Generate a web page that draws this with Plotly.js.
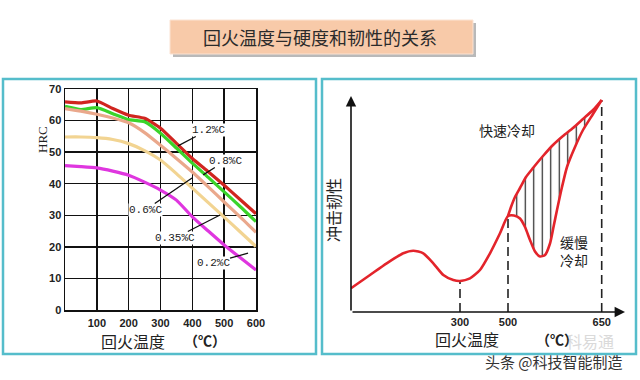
<!DOCTYPE html>
<html><head><meta charset="utf-8">
<script src="https://cdn.plot.ly/plotly-3.0.1.min.js"></script>
<style>html,body{margin:0;padding:0;background:#fff}#chart{width:640px;height:380px}</style>
</head><body><div id="chart"></div>
<script>
// ---------- Left chart data: tempering temperature vs hardness (HRC) ----------
const temps = [0, 50, 100, 150, 200, 250, 300, 350, 400, 450, 500, 550, 600];
const hrc12 = [65.9, 65.6, 66.2, 63.8, 61.7, 60.7, 57.6, 52.8, 48.0, 43.8, 39.5, 35.0, 30.5];
const hrc08 = [64.5, 63.5, 64.1, 62.2, 60.3, 59.6, 56.0, 51.3, 46.5, 42.0, 37.4, 32.8, 28.0];
const hrc06 = [63.8, 63.0, 62.0, 60.8, 59.3, 56.2, 52.2, 48.0, 43.7, 39.0, 34.2, 29.5, 24.6];
const hrc035 = [54.8, 54.8, 54.6, 54.0, 52.7, 50.5, 47.5, 43.2, 38.6, 34.0, 29.4, 24.8, 20.1];
const hrc02 = [45.7, 45.4, 45.0, 44.0, 42.7, 40.5, 38.0, 34.8, 29.5, 25.0, 20.6, 16.6, 12.7];
const seriesNames = ['1.2%C', '0.8%C', '0.6%C', '0.35%C', '0.2%C'];
const xTickVals = [100, 200, 300, 400, 500, 600];
const yTickVals = [0, 10, 20, 30, 40, 50, 60, 70];
// label text position [T, HRC] and pointer target [T, HRC]
const labelText = [[450, 57], [503, 47.2], [252, 31.7], [346, 22.8], [465, 14.9]];
const labelHead = [[355, 52], [434, 42.8], [399, 41.8], [487, 30.1], [575, 18.0]];

// ---------- Right chart data: schematic toughness curve (schematic units) ----------
const commonX = [0, 19, 35.7, 52.3, 62.3, 72.3, 82.3, 92.3, 102.3, 109, 119, 129, 139, 149, 157];
const commonY = [23.7, 37, 48.7, 58.7, 61.3, 58.7, 48.7, 37, 32, 31, 33.7, 42, 58.7, 78.7, 96];
const fastX = [157, 160, 164, 169, 175, 182, 192, 202, 212, 222, 232, 242, 250.7];
const fastY = [96, 105, 115, 124, 135, 144, 156, 167, 176, 184, 193, 202, 212];
const slowX = [157, 163, 169, 174, 179, 184, 189, 194, 199, 202.5, 206, 211, 216, 224, 232, 242, 250.7];
const slowY = [96, 96.5, 93.5, 85, 72, 60.5, 55.5, 57, 68.5, 85, 102, 125, 145, 165, 182, 198, 212];
const rTickPos = [109, 157, 250.7];
const rTickText = ['300', '500', '650'];

const W = 640, H = 380;
const px = v => v / W, py = v => 1 - v / H;
const cjk = '"Noto Sans CJK SC", "Noto Sans", sans-serif';

const colors = ['#d0251f', '#3ad42a', '#eaa88c', '#f2d492', '#df36df'];
const leftSeries = [hrc12, hrc08, hrc06, hrc035, hrc02];

const traces = [];
leftSeries.forEach((ys, i) => {
  traces.push({x: temps, y: ys, type: 'scatter', mode: 'lines', name: seriesNames[i],
    line: {color: colors[i], width: 3.2, shape: 'spline', smoothing: 0.5},
    xaxis: 'x', yaxis: 'y', hoverinfo: 'skip'});
});

// hatched region between fast and slow cooling
const polyX = fastX.concat(slowX.slice().reverse());
const polyY = fastY.concat(slowY.slice().reverse());
traces.push({x: polyX, y: polyY, type: 'scatter', mode: 'lines', fill: 'toself',
  fillcolor: 'rgba(0,0,0,0)', line: {width: 0, shape: 'spline', smoothing: 0.6},
  fillpattern: {shape: '|', size: 8.5, solidity: 0.14, fgcolor: '#222', bgcolor: 'rgba(0,0,0,0)'},
  xaxis: 'x2', yaxis: 'y2', hoverinfo: 'skip'});
// slow cooling path (common + slow)
traces.push({x: commonX.concat(slowX.slice(1)), y: commonY.concat(slowY.slice(1)), type: 'scatter', mode: 'lines',
  line: {color: '#e3242b', width: 2.6, shape: 'spline', smoothing: 0.6}, xaxis: 'x2', yaxis: 'y2', hoverinfo: 'skip'});
// fast cooling path
traces.push({x: fastX, y: fastY, type: 'scatter', mode: 'lines',
  line: {color: '#e3242b', width: 2.6, shape: 'spline', smoothing: 0.6}, xaxis: 'x2', yaxis: 'y2', hoverinfo: 'skip'});

function valueAt(x) {
  const xs = commonX.concat(fastX.slice(1)), ys = commonY.concat(fastY.slice(1));
  const i = xs.indexOf(x);
  return ys[i];
}

const shapes = [
  // title shadow & box
  {type: 'rect', xref: 'paper', yref: 'paper', x0: px(173), x1: px(476), y0: py(57), y1: py(23), fillcolor: '#b9b9b9', line: {width: 0}, layer: 'below'},
  {type: 'rect', xref: 'paper', yref: 'paper', x0: px(170), x1: px(473), y0: py(54), y1: py(20), fillcolor: '#f8caa9', line: {color: '#fbe3d3', width: 1}, layer: 'below'},
  // panel borders
  {type: 'rect', xref: 'paper', yref: 'paper', x0: px(3), x1: px(316), y0: py(354), y1: py(79), line: {color: '#55bdcb', width: 2.5}, layer: 'below'},
  {type: 'rect', xref: 'paper', yref: 'paper', x0: px(322), x1: px(636), y0: py(354), y1: py(79), line: {color: '#55bdcb', width: 2.5}, layer: 'below'}
];
rTickPos.forEach(xv => {
  shapes.push({type: 'line', xref: 'x2', yref: 'y2', x0: xv, x1: xv, y0: 0, y1: valueAt(xv),
    line: {color: '#222', width: 1.6, dash: '9px,5px'}, layer: 'below'});
});

function paperText(x, y, text, font, extra) {
  return Object.assign({xref: 'paper', yref: 'paper', x: px(x), y: py(y), text: text, showarrow: false,
    xanchor: 'center', yanchor: 'middle', font: font}, extra || {});
}

const annotations = [
  paperText(320, 37, '回火温度与硬度和韧性的关系', {family: cjk, size: 18, color: '#2b2b2b'}),
  paperText(42, 140, 'HRC', {family: '"Liberation Serif", serif', size: 13, color: '#222'}, {textangle: -90}),
  paperText(133, 341, '回火温度', {family: cjk, size: 16, color: '#222'}),
  paperText(205, 340, '（℃）', {family: cjk, size: 14, color: '#222', weight: 'bold'}),
  paperText(333, 210, '冲击韧性', {family: cjk, size: 16, color: '#222'}, {textangle: -90}),
  paperText(467, 339, '回火温度', {family: cjk, size: 16, color: '#222'}),
  paperText(590, 341, '科易通', {family: cjk, size: 16, color: '#dadada'}),
  paperText(557, 339, '（℃）', {family: cjk, size: 14, color: '#222', weight: 'bold'}),
  paperText(507, 130, '快速冷却', {family: cjk, size: 14, color: '#222'}),
  paperText(574, 251, '缓慢<br>冷却', {family: cjk, size: 14, color: '#222'}),
  paperText(554, 361, '头条 @科技智能制造', {family: cjk, size: 15, color: '#333'}),
  // right axis arrows
  {xref: 'x2', yref: 'y2', axref: 'x2', ayref: 'y2', x: 0, y: 216, ax: 0, ay: 0, text: '', showarrow: true,
    arrowhead: 2, arrowsize: 1.3, arrowwidth: 1.6, arrowcolor: '#111', standoff: 0, startstandoff: 0},
  {xref: 'x2', yref: 'y2', axref: 'x2', ayref: 'y2', x: 274, y: 0, ax: 0, ay: 0, text: '', showarrow: true,
    arrowhead: 2, arrowsize: 1.3, arrowwidth: 1.6, arrowcolor: '#111', standoff: 0, startstandoff: 0}
];
seriesNames.forEach((nm, i) => {
  annotations.push({xref: 'x', yref: 'y', axref: 'x', ayref: 'y', x: labelHead[i][0], y: labelHead[i][1],
    ax: labelText[i][0], ay: labelText[i][1], text: nm, showarrow: true, arrowhead: 0, arrowwidth: 1.3,
    arrowcolor: '#111', bgcolor: '#fff', borderpad: 0,
    font: {family: '"Liberation Mono", "DejaVu Sans Mono", monospace', size: 11, color: '#222'}});
});

const tickFont = {family: '"Liberation Sans", Arial, sans-serif', size: 11, color: '#222', weight: 'bold'};
const layout = {
  width: W, height: H, margin: {l: 0, r: 0, t: 0, b: 0}, paper_bgcolor: '#fff', plot_bgcolor: 'rgba(0,0,0,0)',
  showlegend: false,
  xaxis: {domain: [px(65), px(256)], range: [0, 600], tickvals: xTickVals, showgrid: true, gridcolor: '#111', gridwidth: 1.5,
    showline: true, mirror: true, linecolor: '#111', linewidth: 1.5, zeroline: false, ticks: '', tickfont: tickFont,
    ticklabelstandoff: 2, anchor: 'y', fixedrange: true},
  yaxis: {domain: [py(310), py(89)], range: [0, 70], tickvals: yTickVals, showgrid: true, gridcolor: '#111', gridwidth: 1.5,
    showline: true, mirror: true, linecolor: '#111', linewidth: 1.5, zeroline: false, ticks: '', tickfont: tickFont,
    ticklabelstandoff: 0, anchor: 'x', fixedrange: true},
  xaxis2: {domain: [px(351), px(625)], range: [0, 274], tickvals: rTickPos, ticktext: rTickText, showgrid: false,
    showline: false, zeroline: false, ticks: '', tickfont: tickFont, ticklabelstandoff: 2, anchor: 'y2', fixedrange: true},
  yaxis2: {domain: [py(312), py(96)], range: [0, 216], showgrid: false, showline: false, zeroline: false,
    showticklabels: false, ticks: '', anchor: 'x2', fixedrange: true},
  shapes: shapes, annotations: annotations
};
Plotly.newPlot('chart', traces, layout, {displayModeBar: false, staticPlot: true});
</script></body></html>
